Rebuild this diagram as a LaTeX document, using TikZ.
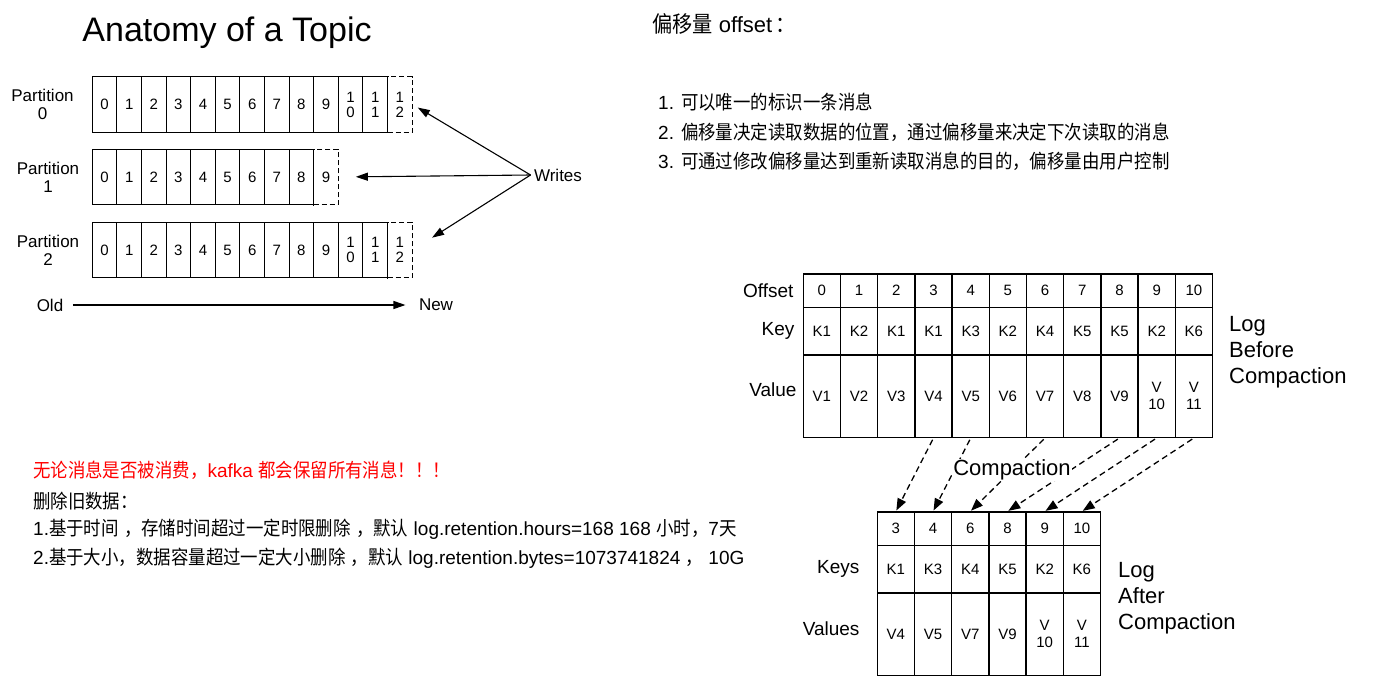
\documentclass[tikz,border=0pt]{standalone}
\usepackage{fontspec}
\setmainfont{Liberation Sans}
\newfontfamily\zhfont[Scale=1.02,FakeStretch=0.9]{Noto Sans CJK SC}
\newcommand\zh[1]{{\zhfont#1}}
\newcommand\fs[2]{\fontsize{#1}{#2}\selectfont}
\usetikzlibrary{arrows.meta,positioning}

\begin{document}
\begin{tikzpicture}[x=1pt, y=-1pt,
  cell/.style={rectangle, draw, line width=1.1pt, minimum width=24.6pt,
               minimum height=55.5pt, inner sep=0pt, align=center, font=\fs{15}{15}},
  newcell/.style={cell, dash pattern=on 5pt off 3pt},
  part/.style={align=center, font=\fs{17}{18}},
  arr/.style={-{Triangle[length=12pt,width=8pt]}, line width=1.1pt},
  ocell/.style={rectangle, draw, line width=1.3pt, minimum width=37.2pt,
                minimum height=33.3pt, inner sep=0pt, align=center, font=\fs{15}{17}},
  kcell/.style={ocell, minimum height=47.7pt},
  vcell/.style={ocell, minimum height=82.3pt},
  rowlbl/.style={inner sep=0pt, font=\fs{19}{20}},
  loglbl/.style={anchor=west, inner sep=0pt, align=left, font=\fs{22}{26}},
  compact/.style={-{Triangle[length=12pt,width=9pt]}, line width=1.3pt,
                  dash pattern=on 6pt off 4pt},
  cn/.style={anchor=west, inner sep=0pt, font=\fs{19}{24}}
]
\useasboundingbox (0,0) rectangle (1379,691);
\fill[white] (0,0) rectangle (1379,691);

% anatomy of a topic
\node[font=\fs{34}{36}] (title) at (227,33) {Anatomy of a Topic};

\foreach \p/\py/\last/\lx in {0/104.5/12/42.5, 1/177/9/48, 2/250/12/48}{
  \node[part] (lab\p) at (\lx,\py) {Partition\\\p};
  \foreach \i in {0,...,\last}{
    \ifnum\i<10 \def\ct{\i}\else\pgfmathtruncatemacro\lo{\i-10}\def\ct{1\\\lo}\fi
    \ifnum\i=\last \def\cs{newcell}\else\def\cs{cell}\fi
    \node[\cs] (p\p-\i) at ({104.6+24.6*\i},\py) {\ct};
  }
}

\node[part] (wr) at (558,175) {Writes};
\draw[arr, shorten >=6pt] (wr.west) -- (p0-12.east);
\draw[arr, shorten >=17pt] (wr.west) -- (p1-9.east);
\draw[arr, shorten >=23pt] (wr.west) -- (p2-12.east);

\node[part] (old) at (50,305) {Old};
\node[part] (new) at (436,305) {New};
\draw[arr, shorten <=6pt, shorten >=10pt] (old) -- (new);

% offset text
\node[cn, font=\fs{22}{28}] (offt) at (652,24) {\zh{偏移量} offset\,\zh{：}};
\node[cn] (it1) at (658,102) {1. \zh{可以唯一的标识一条消息}};
\node[cn] (it2) at (658,132) {2. \zh{偏移量决定读取数据的位置，通过偏移量来决定下次读取的消息}};
\node[cn] (it3) at (658,161) {3. \zh{可通过修改偏移量达到重新读取消息的目的，偏移量由用户控制}};

% retention text
\node[cn, text=red] (keep) at (33,470) {\zh{无论消息是否被消费，}kafka \zh{都会保留所有消息！！！}};
\node[cn] (del) at (33,501) {\zh{删除旧数据：}};
\node[cn] (del1) at (33,529) {1.\zh{基于时间} \zh{，存储时间超过一定时限删除} \zh{，默认} log.retention.hours=168 168 \zh{小时，}7\zh{天}};
\node[cn] (del2) at (33,558) {2.\zh{基于大小，数据容量超过一定大小删除} \zh{，默认} log.retention.bytes=1073741824 \zh{，} 10G};

% log before compaction
\foreach \o/\k/\v [count=\c from 0] in {0/K1/V1,1/K2/V2,2/K1/V3,3/K1/V4,4/K3/V5,5/K2/V6,
                                        6/K4/V7,7/K5/V8,8/K5/V9,9/K2/V\\10,10/K6/V\\11}{
  \node[ocell] (to\o) at ({821.9+37.2*\c},290.7) {\o};
  \node[kcell] (tk\o) at ({821.9+37.2*\c},331.2) {\k};
  \node[vcell] (tv\o) at ({821.9+37.2*\c},396.2) {\v};
}
\node[rowlbl, left=9pt of to0] (lofs) {Offset};
\node[rowlbl, left=8pt of tk0] (lkey) {Key};
\node[rowlbl, left=6pt of tv0, yshift=6pt] (lval) {Value};
\node[loglbl] (before) at (1229,352) {Log\\Before\\Compaction};

% log after compaction
\foreach \o/\k/\v [count=\c from 0] in {3/K1/V4,4/K3/V5,6/K4/V7,8/K5/V9,9/K2/V\\10,10/K6/V\\11}{
  \node[ocell] (bo\c) at ({895.9+37.2*\c},528.7) {\o};
  \node[kcell] (bk\c) at ({895.9+37.2*\c},569.2) {\k};
  \node[vcell] (bv\c) at ({895.9+37.2*\c},634.2) {\v};
  \draw[compact, shorten <=2pt, shorten >=1pt] (tv\o.south) -- (bo\c.north);
}
\node[rowlbl, left=17pt of bk0] (lkeys) {Keys};
\node[rowlbl, left=17pt of bv0, yshift=6pt] (lvals) {Values};
\node[loglbl] (after) at (1118,598) {Log\\After\\Compaction};
\node[fill=white, inner sep=1pt, font=\fs{22}{24}] (cmp) at (1012,470) {Compaction};
\end{tikzpicture}
\end{document}
